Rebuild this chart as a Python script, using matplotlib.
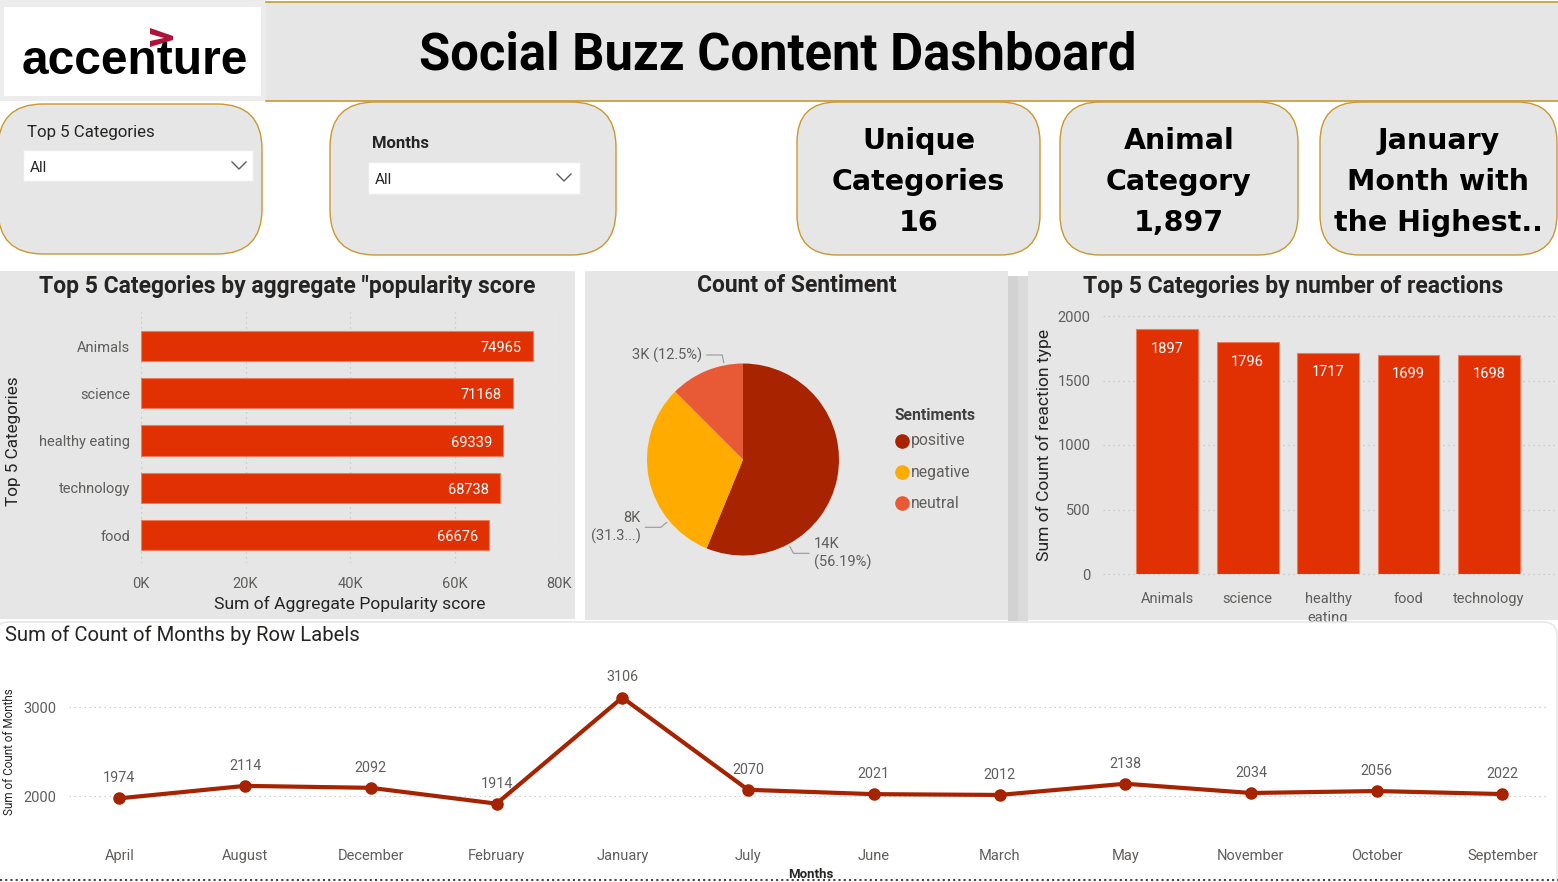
import numpy as np
import matplotlib
matplotlib.use("Agg")
import matplotlib.pyplot as plt
import matplotlib.patches as mpatches

plt.rcParams['font.family'] = ['Roboto', 'DejaVu Sans']

W, H = 1558, 882

# ---- data ----
kpi_texts = ["Unique\nCategories\n16", "Animal\nCategory\n1,897", "January\nMonth with\nthe Highest.."]

pop_categories = ["Animals", "science", "healthy eating", "technology", "food"]
pop_scores = [74965, 71168, 69339, 68738, 66676]
pop_ticks = [0, 20000, 40000, 60000, 80000]

sentiments = ["positive", "negative", "neutral"]
sentiment_counts = [13808, 7694, 3071]
sentiment_labels = ["14K\n(56.19%)", "8K\n(31.3...)", "3K (12.5%)"]

react_categories = ["Animals", "science", "healthy\neating", "food", "technology"]
react_counts = [1897, 1796, 1717, 1699, 1698]
react_ticks = [0, 500, 1000, 1500, 2000]

months = ["April", "August", "December", "February", "January", "July",
          "June", "March", "May", "November", "October", "September"]
month_counts = [1974, 2114, 2092, 1914, 3106, 2070, 2021, 2012, 2138, 2034, 2056, 2022]
month_ticks = [2000, 3000]

# ---- styles ----
GOLD = '#C9982F'
PANEL = '#E6E6E6'
BAR = '#E13102'
BAR_EDGE = '#EF7B5A'
LINE = '#A52300'
PIE_COLORS = ['#A82400', '#FFAB00', '#E85A35']
TXT = '#252423'
TICK = '#605E5C'
GRID = '#C4C4C4'


def px_axes(x0, y0, x1, y1, z=1):
    ax = fig.add_axes([x0 / W, 1 - y1 / H, (x1 - x0) / W, (y1 - y0) / H], zorder=z)
    ax.set_facecolor('none')
    return ax


def box(ax, x0, y0, x1, y1, r=0, fc=PANEL, ec='none', lw=1.0):
    style = "round,pad=0,rounding_size=%s" % r if r else "square,pad=0"
    ax.add_patch(mpatches.FancyBboxPatch((x0, y0), x1 - x0, y1 - y0, boxstyle=style,
                                         fc=fc, ec=ec, lw=lw))


def clean(ax):
    for s in ax.spines.values():
        s.set_visible(False)
    ax.tick_params(length=0, colors=TICK, labelsize=10.5)


fig = plt.figure(figsize=(W / 100, H / 100), dpi=100)
fig.patch.set_facecolor('white')

bg = fig.add_axes([0, 0, 1, 1], zorder=0)
bg.set_xlim(0, W)
bg.set_ylim(H, 0)
bg.axis('off')

# header
box(bg, 0, 0, 266, 101, fc='#ECECEC')
box(bg, 4, 7, 261, 96, fc='white')
bg.text(22, 74, "accenture", fontsize=34.5, fontweight='bold', family='Liberation Sans',
        color='black', va='baseline')
bg.add_patch(mpatches.Polygon([(150, 28), (173, 36), (173, 40), (150, 47), (150, 41),
                               (164, 38), (150, 34)], closed=True, fc='#B0133A', ec='none'))
box(bg, 266, 2, W, 101)
bg.plot([266, W], [2, 2], color=GOLD, lw=1.2)
bg.plot([266, W], [101, 101], color=GOLD, lw=1.2)
bg.text(778, 55, "Social Buzz Content Dashboard", fontsize=36.5, fontweight='bold',
        ha='center', va='center', color='black')

# slicers
box(bg, -2, 104, 262, 254, r=45, ec=GOLD)
bg.text(27, 132, "Top 5 Categories", fontsize=12.2, color=TXT, va='center')
box(bg, 23, 150, 253, 181, fc='white', ec='#EBEBEB')
bg.text(30, 168, "All", fontsize=11, color=TXT, va='center')
bg.plot([232, 239, 246], [162, 169, 162], color=TICK, lw=1)

box(bg, 330, 102, 616, 255, r=45, ec=GOLD)
bg.text(372, 144, "Months", fontsize=12, fontweight='bold', color=TXT, va='center')
box(bg, 368, 162, 580, 194, fc='white', ec='#EBEBEB')
bg.text(375, 180, "All", fontsize=11, color=TXT, va='center')
bg.plot([557, 564, 571], [174, 181, 174], color=TICK, lw=1)

# KPI cards
for (x0, x1), txt in zip([(797, 1040), (1060, 1298), (1320, 1557)], kpi_texts):
    box(bg, x0, 102, x1, 255, r=40, ec=GOLD)
    bg.text((x0 + x1) / 2, 182, txt, ha='center', va='center', fontsize=20.5,
            fontweight='bold', family='DejaVu Sans', linespacing=1.58, color='black')

# chart panels
box(bg, 0, 271, 575, 619)
box(bg, 1008, 276, 1018, 621, fc='#D2D2D2')
box(bg, 1018, 276, 1028, 621, fc='#DADADA')
box(bg, 585, 271, 1008, 620)
box(bg, 1028, 271, W, 620)

bg.text(287, 287, 'Top 5 Categories by aggregate "popularity score', ha='center', va='center',
        fontsize=16.5, fontweight='bold', color=TXT)
bg.text(797, 286, "Count of Sentiment", ha='center', va='center',
        fontsize=16.5, fontweight='bold', color=TXT)
bg.text(1293, 286, "Top 5 Categories by number of reactions", ha='center', va='center',
        fontsize=16.5, fontweight='bold', color=TXT)

# ---- horizontal bars: popularity ----
ax1 = px_axes(141, 312, 559, 563)
y = np.arange(len(pop_categories))
ax1.barh(y, pop_scores, height=0.64, color=BAR, edgecolor=BAR_EDGE, lw=0.8, zorder=2)
for i, v in enumerate(pop_scores):
    ax1.annotate(str(v), (v, i), xytext=(-8, -1.5), textcoords='offset points',
                 ha='right', va='center', color='white', fontsize=10.5, zorder=3)
ax1.set_xlim(0, 80000)
ax1.set_ylim(4.59, -0.72)
ax1.set_xticks(pop_ticks, ["%dK" % (t // 1000) for t in pop_ticks])
ax1.set_yticks(y, pop_categories)
ax1.grid(axis='x', ls=(0, (1, 3)), color=GRID, lw=0.9)
ax1.set_axisbelow(True)
clean(ax1)
ax1.tick_params(axis='y', pad=8)
ax1.tick_params(axis='x', pad=10)
ax1.set_xlabel("Sum of Aggregate Popularity score", fontsize=12.6, color=TXT, labelpad=4)
bg.text(14, 441, "Top 5 Categories", rotation=90, ha='center', va='center',
        fontsize=12.3, color=TXT)

# ---- pie: sentiment ----
cx, cy, r = 743, 459.5, 96
ax2 = px_axes(cx - r, cy - r, cx + r, cy + r)
wedges, _ = ax2.pie(sentiment_counts, colors=PIE_COLORS, startangle=90,
                    counterclock=False, radius=1, wedgeprops=dict(lw=0))
ax2.set_xlim(-1, 1)
ax2.set_ylim(-1, 1)
ax2.axis('off')
label_frac = [0.75, 0.25, 0.75]
for w, lab, f in zip(wedges, sentiment_labels, label_frac):
    a = np.radians(w.theta2 - f * (w.theta2 - w.theta1))
    c, s = np.cos(a), np.sin(a)
    side = 1 if c > 0 else -1
    x0, y0 = 1.03 * c, 1.03 * s
    x1, y1 = 1.11 * c, 1.11 * s
    x2 = x1 + side * 0.16
    ax2.plot([x0, x1, x2], [y0, y1, y1], color='#A0A0A0', lw=0.9, clip_on=False)
    ax2.text(x2 + side * 0.05, y1, lab, ha='left' if side > 0 else 'right', va='center',
             fontsize=10.5, color=TICK, clip_on=False, linespacing=1.35)

bg.text(895, 415, "Sentiments", fontsize=11.3, fontweight='bold', color='#404040', va='center')
for i, (name, col) in enumerate(zip(sentiments, PIE_COLORS)):
    bg.plot(902, 441 + 31 * i, 'o', ms=9.5, color=col)
    bg.text(911, 441 + 31 * i, name, fontsize=11.3, color=TICK, va='center')

# ---- vertical bars: reactions ----
ax3 = px_axes(1103, 316, 1558, 574)
x = np.arange(len(react_categories))
ax3.bar(x, react_counts, width=0.77, color=BAR, edgecolor=BAR_EDGE, lw=0.8, zorder=2)
for i, v in enumerate(react_counts):
    ax3.annotate(str(v), (i, v), xytext=(0, -14), textcoords='offset points',
                 ha='center', va='center', color='white', fontsize=10.5, zorder=3)
ax3.set_xlim(-0.8, 4.86)
ax3.set_ylim(0, 2000)
ax3.set_yticks(react_ticks)
ax3.set_xticks(x, react_categories)
for lbl in ax3.get_xticklabels():
    lbl.set_linespacing(1.45)
ax3.grid(axis='y', ls=(0, (1, 3)), color=GRID, lw=0.9, clip_on=False)
ax3.set_axisbelow(True)
clean(ax3)
ax3.tick_params(axis='y', pad=9)
ax3.tick_params(axis='x', pad=13)
bg.text(1044, 445, "Sum of Count of reaction type", rotation=90, ha='center', va='center',
        fontsize=12.6, color=TXT)

# ---- bottom panel (drawn above the reaction chart) ----
fg = fig.add_axes([0, 0, 1, 1], zorder=2)
fg.set_xlim(0, W)
fg.set_ylim(H, 0)
fg.axis('off')
box(fg, -5, 622, 1557, 892, r=14, fc='white', ec='#E3E3E3')
fg.text(5, 635, "Sum of Count of Months by Row Labels", fontsize=14.6, color=TXT, va='center')
fg.text(10, 752, "Sum of Count of Months", rotation=90, ha='center', va='center',
        fontsize=8.5, color=TXT)
fg.plot([0, W], [880, 880], ls=(0, (1, 1.5)), color='#444444', lw=1.5)
fg.text(811, 875, "Months", fontsize=9.5, fontweight='bold', color=TXT, ha='center', va='center')

ax4 = px_axes(69, 670, 1549, 835, z=3)
xm = np.arange(len(months))
ax4.plot(xm, month_counts, color=LINE, lw=3, marker='o', ms=8, zorder=3)
for i, v in enumerate(month_counts):
    ax4.annotate(str(v), (i, v), xytext=(0, 14.5), textcoords='offset points',
                 ha='center', va='center', color=TICK, fontsize=10.3)
ax4.set_xlim(-0.4, 11.37)
ax4.set_ylim(1562, 3416)
ax4.set_yticks(month_ticks)
ax4.set_xticks(xm, months)
ax4.grid(axis='y', ls=(0, (1, 3)), color=GRID, lw=0.9)
ax4.set_axisbelow(True)
clean(ax4)
ax4.tick_params(axis='y', pad=9)
ax4.tick_params(axis='x', pad=10)

fig.savefig("out.png", dpi=100)
